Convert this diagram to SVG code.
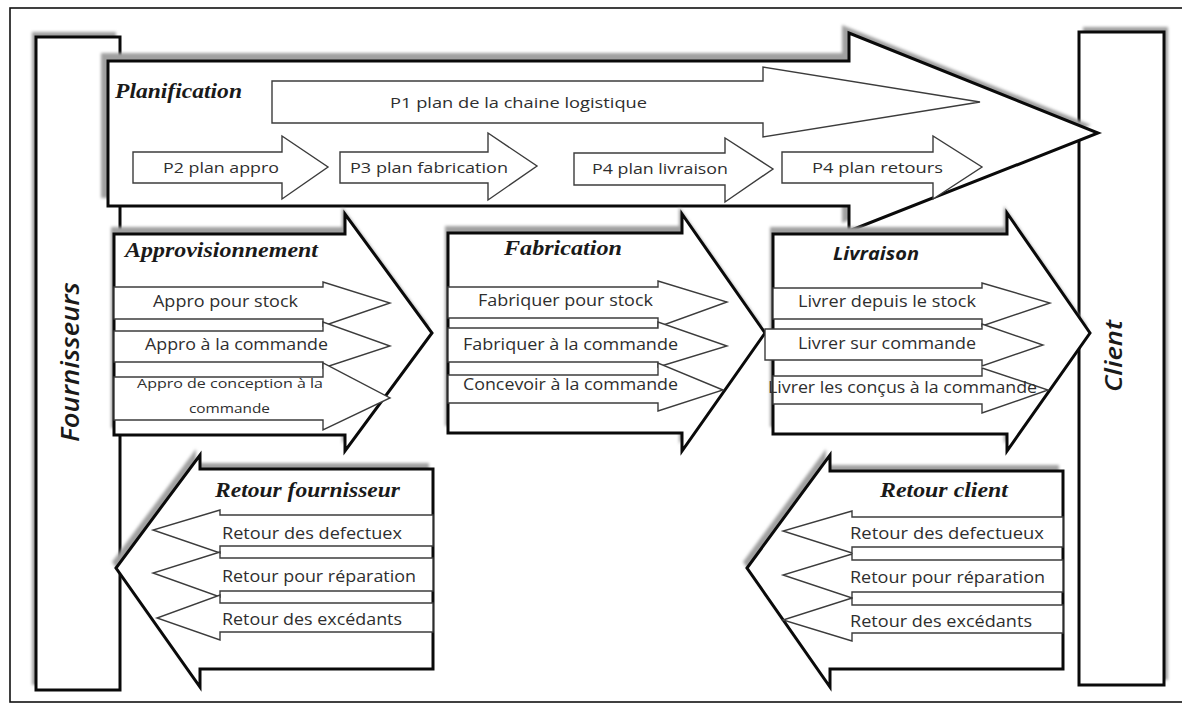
<svg xmlns="http://www.w3.org/2000/svg" xmlns:xlink="http://www.w3.org/1999/xlink" width="1182" height="704" viewBox="0 0 1182 704">
<defs>
<filter id="blur" x="-10%" y="-10%" width="120%" height="120%"><feGaussianBlur stdDeviation="1.6"/></filter>
<style>
.frame{fill:#fff;stroke:#111;stroke-width:1.6}
.big{fill:#fff;stroke:#0a0a0a;stroke-width:3;stroke-linejoin:miter}
.shadow{fill:#a0a0a0;stroke:none;filter:url(#blur)}
.small{fill:#fff;stroke:#3c3c3c;stroke-width:1.4;stroke-linejoin:miter}
.lbl{font-family:"Open Sans",Lato,"Liberation Sans",sans-serif;font-size:15.5px;fill:#2e2e2e}
.lbls{font-family:"Open Sans",Lato,"Liberation Sans",sans-serif;font-size:12.5px;fill:#2e2e2e}
.ttl{font-family:"Liberation Serif","DejaVu Serif",serif;font-size:21px;font-weight:bold;font-style:italic;fill:#1a1a1a}
.ttls{font-family:"Open Sans",Lato,"Liberation Sans",sans-serif;font-size:17px;font-weight:bold;font-style:italic;fill:#1a1a1a}
.vert{font-family:"Open Sans","Liberation Sans",sans-serif;font-size:26px;font-style:italic;font-weight:600;fill:#1a1a1a}
</style>
<polygon id="pPlan" points="108,61 849,61 849,33 1098,133 849,231 849,206 108,206"/>
<polygon id="pAppro" points="114,234 345,234 345,214 432,333 345,451 345,435 114,435"/>
<polygon id="pFab" points="448,233 682,233 682,214 765,333 682,451 682,433 448,433"/>
<polygon id="pLiv" points="773,234 1007,234 1007,213 1090,333 1007,451 1007,434 773,434"/>
<polygon id="pRF" points="433,469 200,469 200,455 116,568 200,687 200,669 433,669"/>
<polygon id="pRC" points="1063,471 830,471 830,455 747,568 830,687 830,669 1063,669"/>
</defs>
<rect class="frame" x="10" y="8" width="1180" height="694"/>

<g id="fournisseurs">
<rect class="shadow" x="32" y="32" width="84" height="653"/>
<rect class="big" x="36" y="37" width="84" height="653"/>
<text class="vert" transform="translate(79,362) rotate(-90)" text-anchor="middle" textLength="160" lengthAdjust="spacingAndGlyphs">Fournisseurs</text>
</g>

<g id="client">
<rect class="shadow" x="1083" y="27" width="85" height="653"/>
<rect class="big" x="1079" y="32" width="85" height="653"/>
<text class="vert" style="font-size:24px" transform="translate(1122,356) rotate(-90)" text-anchor="middle" textLength="72" lengthAdjust="spacingAndGlyphs">Client</text>
</g>

<g id="planification">
<use xlink:href="#pPlan" class="shadow" transform="translate(-7,-8)"/>
<use xlink:href="#pPlan" class="big"/>
<text class="ttl" x="115" y="98" textLength="127" lengthAdjust="spacingAndGlyphs">Planification</text>
</g>
<g id="p1">
<polygon class="small" points="272,81 763,81 763,67 980,102 763,137 763,123 272,123"/>
<text class="lbl" style="font-size:15px" x="390" y="108" textLength="257" lengthAdjust="spacingAndGlyphs">P1 plan de la chaine logistique</text>
</g>
<g id="p2">
<polygon class="small" points="133,152 282,152 282,136 328,167 282,199 282,183 133,183"/>
<text class="lbl" style="font-size:15px" x="163" y="173" textLength="116" lengthAdjust="spacingAndGlyphs">P2 plan appro</text>
</g>
<g id="p3">
<polygon class="small" points="340,152 488,152 488,133 537,166 488,200 488,183 340,183"/>
<text class="lbl" style="font-size:15px" x="350" y="173" textLength="158" lengthAdjust="spacingAndGlyphs">P3 plan fabrication</text>
</g>
<g id="p4-livraison">
<polygon class="small" points="574,153 725,153 725,138 773,169 725,202 725,185 574,185"/>
<text class="lbl" style="font-size:15px" x="592" y="174" textLength="136" lengthAdjust="spacingAndGlyphs">P4 plan livraison</text>
</g>
<g id="p4-retours">
<polygon class="small" points="782,152 933,152 933,136 982,167 933,199 933,183 782,183"/>
<text class="lbl" style="font-size:15px" x="812" y="173" textLength="131" lengthAdjust="spacingAndGlyphs">P4 plan retours</text>
</g>

<g id="approvisionnement">
<use xlink:href="#pAppro" class="shadow" transform="translate(-3,-7)"/>
<use xlink:href="#pAppro" class="big"/>
<polygon class="small" points="114,287 323,287 323,282 390,303 323,326 323,319 114,319"/>
<polygon class="small" points="114,331 323,331 323,322 390,346 323,368 323,362 114,362"/>
<polygon class="small" points="114,377 323,377 323,363 390,398 323,430 323,420 114,420"/>
<text class="ttl" x="125" y="257" textLength="193" lengthAdjust="spacingAndGlyphs">Approvisionnement</text>
<text class="lbl" x="153" y="307" textLength="145" lengthAdjust="spacingAndGlyphs">Appro pour stock</text>
<text class="lbl" x="145" y="350" textLength="183" lengthAdjust="spacingAndGlyphs">Appro à la commande</text>
<text class="lbls" x="137" y="388" textLength="186" lengthAdjust="spacingAndGlyphs">Appro de conception à la</text>
<text class="lbls" x="189" y="413" textLength="81" lengthAdjust="spacingAndGlyphs">commande</text>
</g>

<g id="fabrication">
<use xlink:href="#pFab" class="shadow" transform="translate(-3,-7)"/>
<use xlink:href="#pFab" class="big"/>
<polygon class="small" points="448,287 658,287 658,281 727,302 658,327 658,318 448,318"/>
<polygon class="small" points="448,328 658,328 658,322 727,346 658,367 658,362 448,362"/>
<polygon class="small" points="448,375 658,375 658,363 723,390 658,411 658,403 448,403"/>
<text class="ttl" x="504" y="255" textLength="118" lengthAdjust="spacingAndGlyphs">Fabrication</text>
<text class="lbl" x="478" y="306" textLength="175" lengthAdjust="spacingAndGlyphs">Fabriquer pour stock</text>
<text class="lbl" x="463" y="350" textLength="215" lengthAdjust="spacingAndGlyphs">Fabriquer à la commande</text>
<text class="lbl" x="463" y="390" textLength="215" lengthAdjust="spacingAndGlyphs">Concevoir à la commande</text>
</g>

<g id="livraison">
<use xlink:href="#pLiv" class="shadow" transform="translate(-3,-7)"/>
<use xlink:href="#pLiv" class="big"/>
<polygon class="small" points="773,288 982,288 982,283 1050,303 982,326 982,319 773,319"/>
<polygon class="small" points="765,329 982,329 982,324 1043,345 982,366 982,360 765,360"/>
<polygon class="small" points="773,376 982,376 982,368 1048,390 982,413 982,404 773,404"/>
<text class="ttls" x="833" y="260" textLength="86" lengthAdjust="spacingAndGlyphs">Livraison</text>
<text class="lbl" x="798" y="307" textLength="178" lengthAdjust="spacingAndGlyphs">Livrer depuis le stock</text>
<text class="lbl" x="798" y="349" textLength="178" lengthAdjust="spacingAndGlyphs">Livrer sur commande</text>
<text class="lbl" x="768" y="393" textLength="269" lengthAdjust="spacingAndGlyphs">Livrer les conçus à la commande</text>
</g>

<g id="retour-fournisseur">
<use xlink:href="#pRF" class="shadow" transform="translate(-4,-6)"/>
<use xlink:href="#pRF" class="big"/>
<polygon class="small" points="433,515 220,515 220,510 153,530 220,553 220,546 433,546"/>
<polygon class="small" points="433,558 220,558 220,552 153,573 220,597 220,591 433,591"/>
<polygon class="small" points="433,603 220,603 220,595 157,618 220,640 220,632 433,632"/>
<text class="ttl" x="215" y="497" textLength="185" lengthAdjust="spacingAndGlyphs">Retour fournisseur</text>
<text class="lbl" x="222" y="539" textLength="180" lengthAdjust="spacingAndGlyphs">Retour des defectuex</text>
<text class="lbl" x="222" y="582" textLength="194" lengthAdjust="spacingAndGlyphs">Retour pour réparation</text>
<text class="lbl" x="222" y="625" textLength="180" lengthAdjust="spacingAndGlyphs">Retour des excédants</text>
</g>

<g id="retour-client">
<use xlink:href="#pRC" class="shadow" transform="translate(-4,-6)"/>
<use xlink:href="#pRC" class="big"/>
<polygon class="small" points="1063,517 852,517 852,511 783,531 852,553 852,547 1063,547"/>
<polygon class="small" points="1063,560 852,560 852,554 783,575 852,598 852,592 1063,592"/>
<polygon class="small" points="1063,605 852,605 852,598 783,620 852,641 852,633 1063,633"/>
<text class="ttl" x="880" y="497" textLength="128" lengthAdjust="spacingAndGlyphs">Retour client</text>
<text class="lbl" x="850" y="539" textLength="194" lengthAdjust="spacingAndGlyphs">Retour des defectueux</text>
<text class="lbl" x="850" y="583" textLength="195" lengthAdjust="spacingAndGlyphs">Retour pour réparation</text>
<text class="lbl" x="850" y="627" textLength="182" lengthAdjust="spacingAndGlyphs">Retour des excédants</text>
</g>

<g id="connectors"></g>
</svg>
